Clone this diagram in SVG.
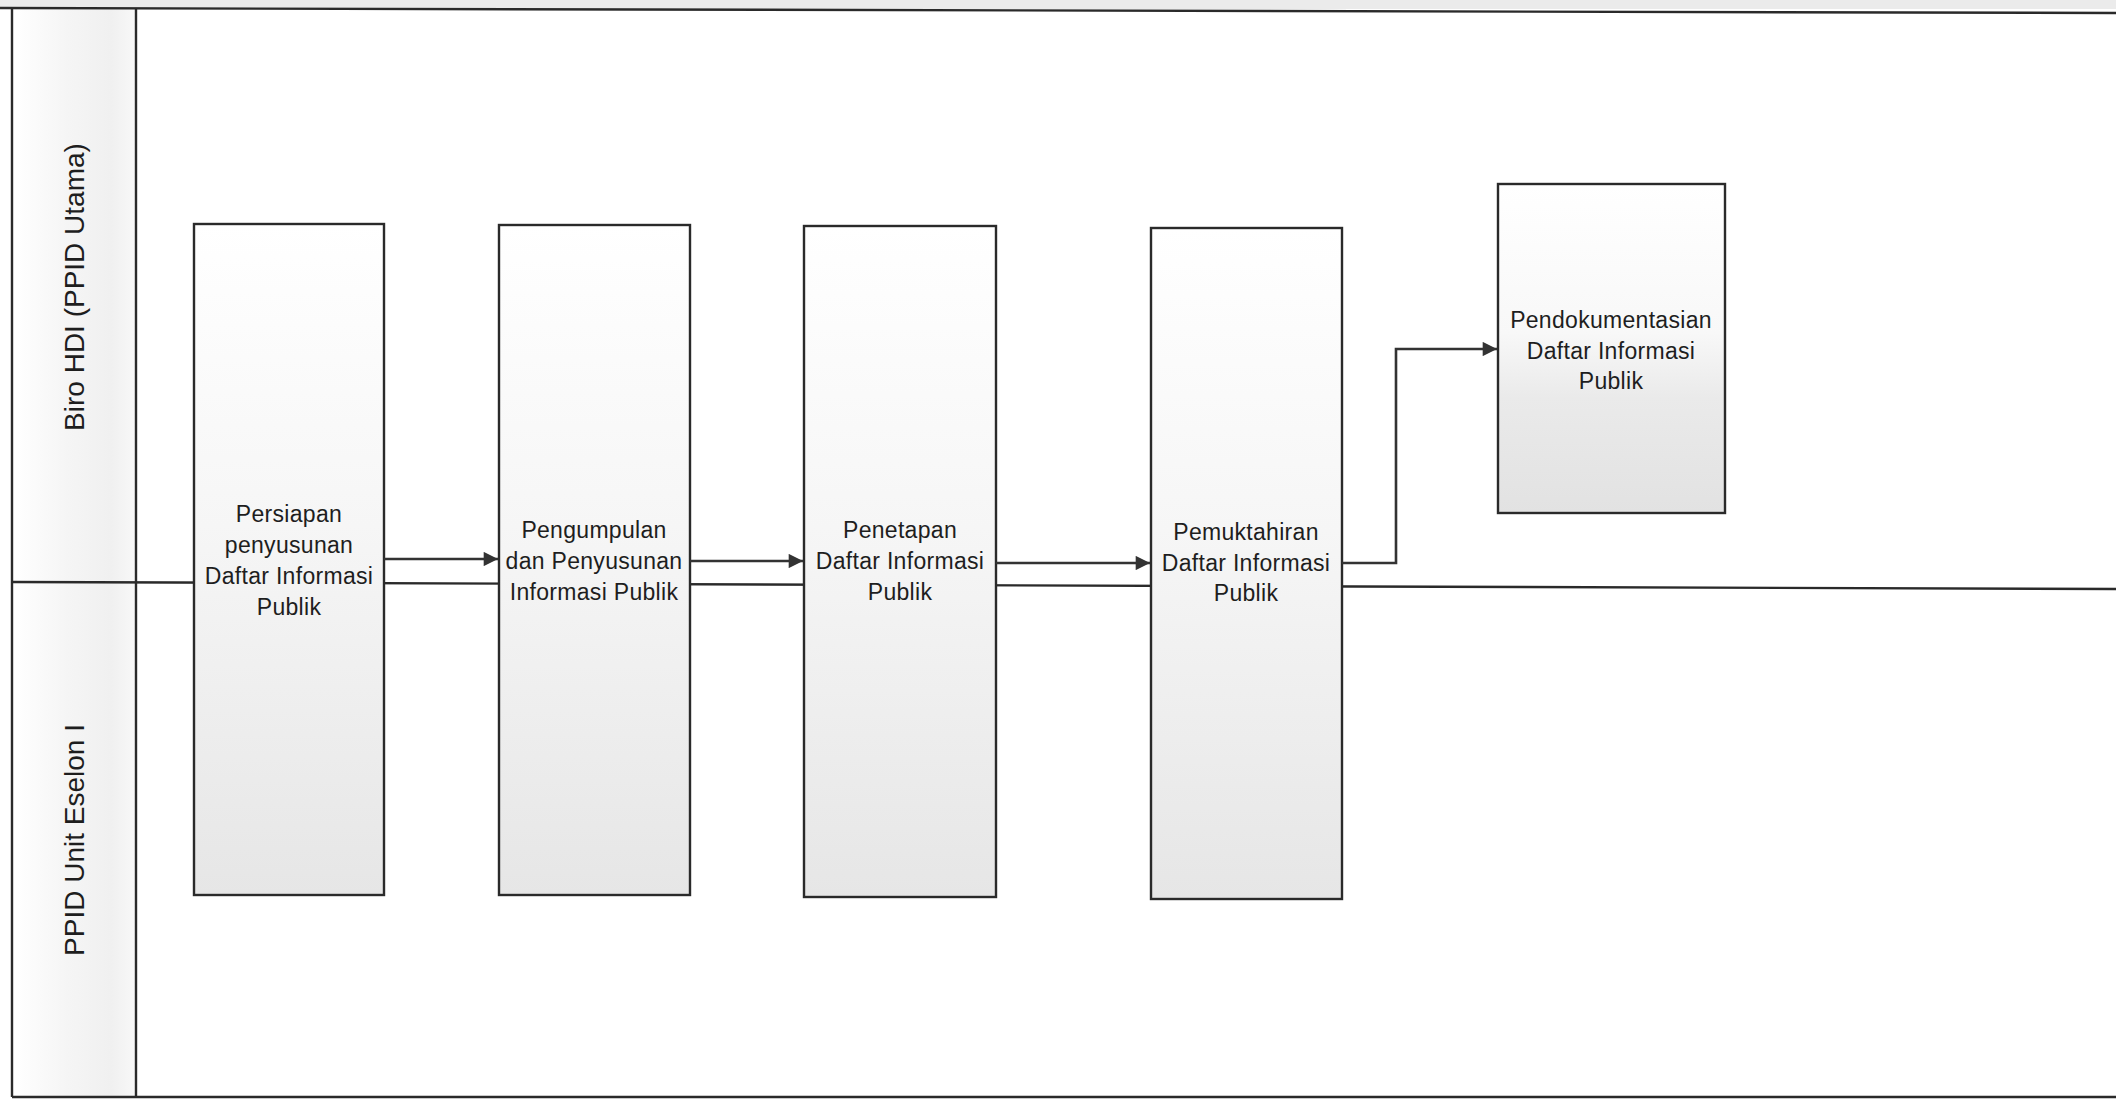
<svg xmlns="http://www.w3.org/2000/svg" width="2116" height="1100" viewBox="0 0 2116 1100">
<style>
.frame{stroke:#2a2a2a;stroke-width:2.4;fill:none}
.box{stroke:#2a2a2a;stroke-width:2.4;fill:url(#boxg)}
.lbl{font-family:"Liberation Sans",Arial,sans-serif;font-size:23px;fill:#1e1e1e;text-anchor:middle;letter-spacing:0.3px}
.lane{font-family:"Liberation Sans",Arial,sans-serif;font-size:28px;fill:#1e1e1e;text-anchor:middle}
.conn{stroke:#333;stroke-width:2.6;fill:none}
</style>
<defs>
<linearGradient id="boxg" x1="0" y1="0" x2="0" y2="1">
<stop offset="0" stop-color="#ffffff"/>
<stop offset="0.45" stop-color="#f6f6f6"/>
<stop offset="1" stop-color="#e6e6e6"/>
</linearGradient>
<linearGradient id="box5g" x1="0" y1="0" x2="0" y2="1">
<stop offset="0" stop-color="#ffffff"/>
<stop offset="0.45" stop-color="#f8f8f8"/>
<stop offset="0.65" stop-color="#eaeaea"/>
<stop offset="1" stop-color="#e2e2e2"/>
</linearGradient>
<linearGradient id="hdrg" x1="0" y1="0" x2="1" y2="0">
<stop offset="0" stop-color="#ffffff"/>
<stop offset="0.45" stop-color="#f5f5f5"/>
<stop offset="0.8" stop-color="#f0f0f0"/>
<stop offset="1" stop-color="#f8f8f8"/>
</linearGradient>
<marker id="arr" viewBox="0 0 10 10" refX="10" refY="5" markerWidth="6.5" markerHeight="5.5" orient="auto" markerUnits="strokeWidth">
<path d="M0,0 L10,5 L0,10 z" fill="#333"/>
</marker>
</defs>
<rect x="0" y="0" width="2116" height="1100" fill="#ffffff"/>
<rect x="0" y="0" width="2116" height="9" fill="#ebebeb"/>
<g id="lanes">
<rect x="12" y="9" width="124" height="1088" fill="url(#hdrg)"/>
<line class="frame" x1="0" y1="8" x2="2116" y2="13"/>
<line class="frame" x1="12" y1="8" x2="12" y2="1097"/>
<line class="frame" x1="136" y1="9" x2="136" y2="1097"/>
<line class="frame" x1="12" y1="1097" x2="2116" y2="1097"/>
<line class="frame" x1="12" y1="582" x2="2116" y2="589"/>
<text class="lane" transform="translate(84,287) rotate(-90)">Biro HDI (PPID Utama)</text>
<text class="lane" transform="translate(84,840) rotate(-90)">PPID Unit Eselon I</text>
</g>
<g id="node1">
<rect class="box" x="194" y="224" width="190" height="671"/>
<text class="lbl" x="289" y="522">Persiapan</text>
<text class="lbl" x="289" y="553">penyusunan</text>
<text class="lbl" x="289" y="584">Daftar Informasi</text>
<text class="lbl" x="289" y="615">Publik</text>
</g>
<g id="node2">
<rect class="box" x="499" y="225" width="191" height="670"/>
<text class="lbl" x="594" y="538">Pengumpulan</text>
<text class="lbl" x="594" y="569">dan Penyusunan</text>
<text class="lbl" x="594" y="600">Informasi Publik</text>
</g>
<g id="node3">
<rect class="box" x="804" y="226" width="192" height="671"/>
<text class="lbl" x="900" y="538">Penetapan</text>
<text class="lbl" x="900" y="569">Daftar Informasi</text>
<text class="lbl" x="900" y="600">Publik</text>
</g>
<g id="node4">
<rect class="box" x="1151" y="228" width="191" height="671"/>
<text class="lbl" x="1246" y="540">Pemuktahiran</text>
<text class="lbl" x="1246" y="571">Daftar Informasi</text>
<text class="lbl" x="1246" y="601">Publik</text>
</g>
<g id="node5">
<rect x="1498" y="184" width="227" height="329" fill="url(#box5g)" stroke="#2a2a2a" stroke-width="2.4"/>
<text class="lbl" x="1611" y="328">Pendokumentasian</text>
<text class="lbl" x="1611" y="359">Daftar Informasi</text>
<text class="lbl" x="1611" y="389">Publik</text>
</g>
<g id="connectors">
<path class="conn" d="M384,559 L498,559" marker-end="url(#arr)"/>
<path class="conn" d="M690,561 L803,561" marker-end="url(#arr)"/>
<path class="conn" d="M996,563 L1150,563" marker-end="url(#arr)"/>
<path class="conn" d="M1342,563 L1396,563 L1396,349 L1497,349" marker-end="url(#arr)"/>
</g>
</svg>
